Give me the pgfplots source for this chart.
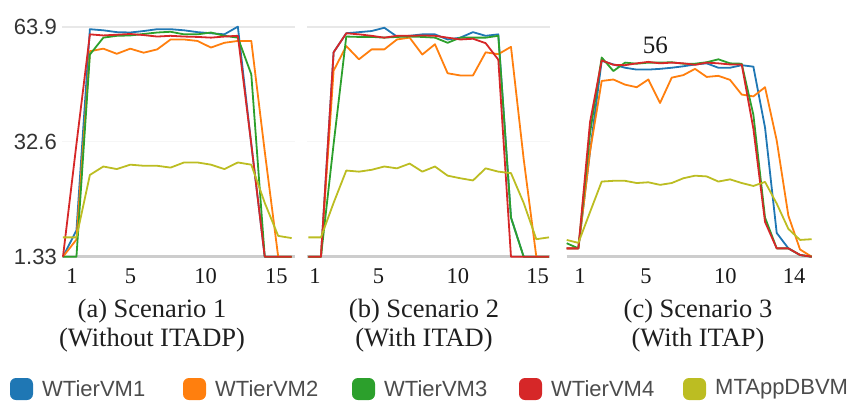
\documentclass[border=0pt]{standalone}
\usepackage{fontspec}
\setmainfont{Liberation Serif}
\newfontfamily\sansf{Liberation Sans}
\usepackage{pgfplots}
\usepackage{pgfplotstable}
\pgfplotsset{compat=1.18}

\definecolor{cBlue}{RGB}{31,119,180}
\definecolor{cOrange}{RGB}{255,127,14}
\definecolor{cGreen}{RGB}{44,160,44}
\definecolor{cRed}{RGB}{214,39,40}
\definecolor{cOlive}{RGB}{188,189,34}
\definecolor{gridc}{RGB}{232,232,232}
\definecolor{basec}{RGB}{205,205,205}

% Scenario 1 (Without ITADP)
\pgfplotstableread{
i  b     o     g     r     y
0  1.33  1.33  1.33  1.33  6.6
1  8.5   6.0   1.33  32.0  6.6
2  63.3  57.3  56.4  61.9  23.6
3  63.0  58.0  61.0  61.6  25.9
4  62.5  56.6  61.5  61.8  25.2
5  62.4  58.0  61.6  62.0  26.4
6  62.8  56.9  62.0  61.7  26.1
7  63.3  57.8  62.4  61.3  26.1
8  63.3  60.5  62.6  61.5  25.6
9  63.0  60.5  61.9  61.3  27.0
10 62.5  60.1  61.9  61.2  27.0
11 62.2  58.3  62.4  61.0  26.4
12 61.9  59.6  61.5  61.3  25.2
13 64.0  60.1  61.0  61.5  27.0
14 32.0  60.1  51.0  32.0  26.4
15 1.33  30.0  1.33  1.33  16.0
16 1.33  1.33  1.33  1.33  7.0
17 1.33  1.33  1.33  1.33  6.4
}\scenA

% Scenario 2 (With ITAD)
\pgfplotstableread{
i  b     o     g     r     y
0  1.33  1.33  1.33  1.33  6.6
1  1.33  1.33  1.33  1.33  6.6
2  57.0  52.0  32.0  57.0  16.0
3  62.2  58.7  61.3  62.2  24.8
4  62.5  55.1  61.2  61.9  24.5
5  62.8  57.8  61.2  61.5  25.0
6  63.7  57.8  61.0  61.0  25.9
7  61.3  60.5  61.2  61.5  25.4
8  61.5  61.0  61.3  61.5  26.7
9  61.9  56.4  61.2  61.6  24.5
10 61.9  59.2  61.0  61.5  25.9
11 60.5  51.3  59.6  61.0  23.4
12 61.0  50.7  61.0  60.5  22.7
13 62.5  50.7  61.0  60.7  22.1
14 61.5  57.0  61.0  59.5  25.4
15 61.9  56.5  61.5  55.0  24.5
16 12.0  58.5  12.0  1.33  24.1
17 1.33  28.0  1.33  1.33  16.0
18 1.33  1.33  1.33  1.33  6.1
19 1.33  1.33  1.33  1.33  6.6
}\scenB

% Scenario 3 (With ITAP)
\pgfplotstableread{
i  b     o     g     r     y
0  3.6   3.6   5.0   3.6   5.9
1  3.6   3.6   3.6   3.6   5.1
2  30.0  30.0  35.0  38.0  13.5
3  54.7  49.2  55.6  54.8  21.8
4  53.7  49.6  51.9  53.6  22.0
5  52.8  48.2  54.2  53.5  22.0
6  52.3  47.5  53.9  54.0  21.4
7  52.3  49.6  54.2  54.4  21.6
8  52.5  43.2  54.2  54.0  20.9
9  52.8  50.1  54.3  54.2  21.4
10 53.2  50.8  53.9  54.0  22.7
11 53.7  52.5  53.9  53.6  23.4
12 54.0  50.3  54.3  54.2  23.2
13 52.8  50.6  55.1  54.0  21.8
14 52.8  49.5  54.0  53.7  22.4
15 53.5  45.5  53.9  53.7  21.4
16 53.1  45.0  40.0  36.2  20.6
17 36.5  47.5  12.0  10.8  21.7
18 7.8   33.0  3.6   3.6   15.8
19 3.6   12.5  3.6   3.6   8.9
20 1.8   3.3   1.8   1.8   5.9
21 1.33  1.33  1.33  1.33  6.1
}\scenC

\pgfplotsset{
  panel/.style={
    scale only axis, anchor=south west, clip=false,
    height=229.7pt,
    ymin=1.33, ymax=63.9,
    axis line style={draw=none},
    major tick length=0pt,
    ytick=\empty,
    xticklabel style={font=\fontsize{22.5}{27}\selectfont, inner sep=0pt, anchor=north, yshift=-12pt, text=black!90},
    every axis plot/.append style={line width=1.8pt, line join=round, no markers},
  },
}

\begin{document}
\begin{tikzpicture}
\useasboundingbox (0pt,0pt) rectangle (854pt,-408pt);

% ---------- Panel (a)
\begin{axis}[panel, at={(62pt,-256.7pt)}, width=233pt,
  xmin=-0.074, xmax=17.25,
  xtick={0.67,5.01,10.6,15.87}, xticklabels={1,5,10,15},
  ytick={1.33,32.6,63.9}, yticklabels={1.33,32.6,63.9},
  yticklabel style={font=\sansf\fontsize{22}{26}\selectfont, text=black!80, anchor=east, inner sep=0pt, xshift=-5pt},
]
\draw[gridc, line width=1.2pt] (rel axis cs:0,1) -- (rel axis cs:1,1);
\draw[gridc!40, line width=1pt] (axis cs:-0.074,32.6) -- (axis cs:17.25,32.6);
\draw[basec, line width=2.5pt] (rel axis cs:0,0) -- (rel axis cs:1,0);
\addplot[cBlue] table[x=i,y=b] {\scenA};
\addplot[cOrange] table[x=i,y=o] {\scenA};
\addplot[cGreen] table[x=i,y=g] {\scenA};
\addplot[cRed] table[x=i,y=r] {\scenA};
\addplot[cOlive] table[x=i,y=y] {\scenA};
\end{axis}

% ---------- Panel (b)
\begin{axis}[panel, at={(307pt,-256.7pt)}, width=243pt,
  xmin=-0.1, xmax=19.08,
  xtick={0.53,5.55,11.8,18.1}, xticklabels={1,5,10,15},
]
\draw[gridc, line width=1.2pt] (rel axis cs:0,1) -- (rel axis cs:1,1);
\draw[gridc!40, line width=1pt] (axis cs:-0.1,32.6) -- (axis cs:19.08,32.6);
\draw[basec, line width=2.5pt] (rel axis cs:0,0) -- (rel axis cs:1,0);
\addplot[cBlue] table[x=i,y=b] {\scenB};
\addplot[cOrange] table[x=i,y=o] {\scenB};
\addplot[cGreen] table[x=i,y=g] {\scenB};
\addplot[cRed] table[x=i,y=r] {\scenB};
\addplot[cOlive] table[x=i,y=y] {\scenB};
\end{axis}

% ---------- Panel (c)
\begin{axis}[panel, at={(566.7pt,-256.7pt)}, width=245pt,
  xmin=0, xmax=21,
  xtick={1.14,6.8,13.6,19.5}, xticklabels={1,5,10,14},
]
\draw[basec, line width=2.5pt] (rel axis cs:0,0) -- (rel axis cs:1,0);
\addplot[cBlue] table[x=i,y=b] {\scenC};
\addplot[cOrange] table[x=i,y=o] {\scenC};
\addplot[cGreen] table[x=i,y=g] {\scenC};
\addplot[cRed] table[x=i,y=r] {\scenC};
\addplot[cOlive] table[x=i,y=y] {\scenC};
\node[font=\fontsize{25}{28}\selectfont, text=black!90, inner sep=0pt] at (axis cs:7.6,59.0) {56};
\end{axis}

% ---------- Captions
\begin{scope}[every node/.style={font=\fontsize{26.5}{30}\selectfont, text=black!88, inner sep=0pt, anchor=center}]
\node at (152pt,-311pt) {(a) Scenario 1};
\node at (152pt,-340pt) {(Without ITADP)};
\node at (424pt,-311pt) {(b) Scenario 2};
\node at (424pt,-340pt) {(With ITAD)};
\node at (698pt,-311pt) {(c) Scenario 3};
\node at (698pt,-340pt) {(With ITAP)};
\end{scope}

% ---------- Legend
\foreach \xx/\col/\txt in {10/cBlue/WTierVM1, 183/cOrange/WTierVM2, 352/cGreen/WTierVM3, 519/cRed/WTierVM4, 683/cOlive/MTAppDBVM}{
  \fill[\col, rounded corners=6pt] (\xx pt,-378pt) rectangle ++(23pt,-22pt);
  \node[anchor=west, inner sep=0pt, text=black!70, font=\sansf\fontsize{22}{26}\selectfont] at ({\xx pt+32pt},-389pt) {\txt};
}
\end{tikzpicture}
\end{document}
